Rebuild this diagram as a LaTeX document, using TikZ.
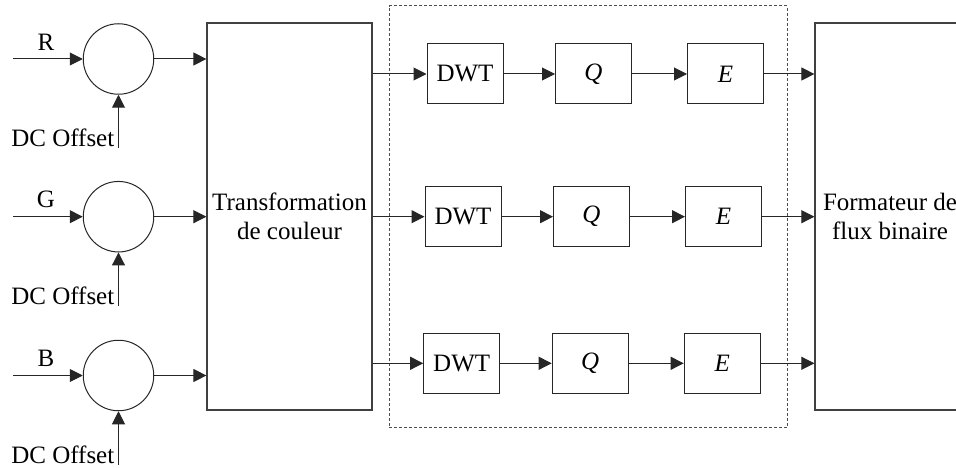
\documentclass[tikz,border=0pt]{standalone}
\usepackage{fontspec}
\setmainfont{Liberation Serif}
\usetikzlibrary{arrows.meta}
\begin{document}
\begin{tikzpicture}[x=1pt,y=-1pt,
  every node/.style={font=\fontsize{25}{29}\selectfont},
  arr/.style={line width=1pt,draw=black!85,-{Triangle[length=13pt,width=13pt]}},
  sumc/.style={circle,draw=black!85,line width=1pt,minimum size=70.5pt,inner sep=0pt},
  blk/.style={draw=black!85,line width=1pt,minimum width=76pt,minimum height=60pt,inner sep=0pt},
  big/.style={draw=black!75,line width=1.2pt,minimum width=165pt,minimum height=387pt,align=center,inner sep=0pt},
  grp/.style={draw=black!70,line width=1pt,dash pattern=on 3pt off 2pt,minimum width=398pt,minimum height=421.7pt,inner sep=0pt},
  lbl/.style={inner sep=0pt}
]
\useasboundingbox (0,0) rectangle (956,468);
\clip (0,0) rectangle (956,468);

% group box
\node[grp] (grp) at (588.3,216.85) {};

% big boxes
\node[big] (T) at (289.5,216.5) {Transformation\\de couleur};
\node[big,minimum width=150pt] (F) at (890,216.5) {Formateur de\\flux binaire};

% summing circles and inputs
\foreach \i/\y/\c in {1/59/R,2/216.7/G,3/375.5/B}{
  \node[sumc] (c\i) at (118.5,\y) {};
  \coordinate (in\i) at (13,\y);
  \draw[arr] (in\i) -- node[lbl,above=8pt,xshift=-2pt] (l\i) {\c} (c\i.west);
  \coordinate (dcb\i) at (118.5,\y+89);
  \node[lbl,anchor=base east] (dc\i) at (114.5,\y+88) {DC Offset};
  \draw[arr] (dcb\i) -- (c\i.south);
  \draw[arr] (c\i.east) -- (c\i.east -| T.west);
}

% processing chains
\foreach \i/\y/\dx in {1/74/0,2/216.7/-2,3/363.3/-3.3}{
  \node[blk] (D\i) at (465+\dx,\y) {DWT};
  \node[blk] (Q\i) at (593.5+\dx,\y) {\textit{Q}};
  \node[blk] (E\i) at (725.5+\dx,\y) {\textit{E}};
  \draw[arr] (T.east |- D\i.west) -- (D\i.west);
  \draw[arr] (D\i.east) -- (Q\i.west);
  \draw[arr] (Q\i.east) -- (E\i.west);
  \draw[arr] (E\i.east) -- (E\i.east -| F.west);
}
\end{tikzpicture}
\end{document}
